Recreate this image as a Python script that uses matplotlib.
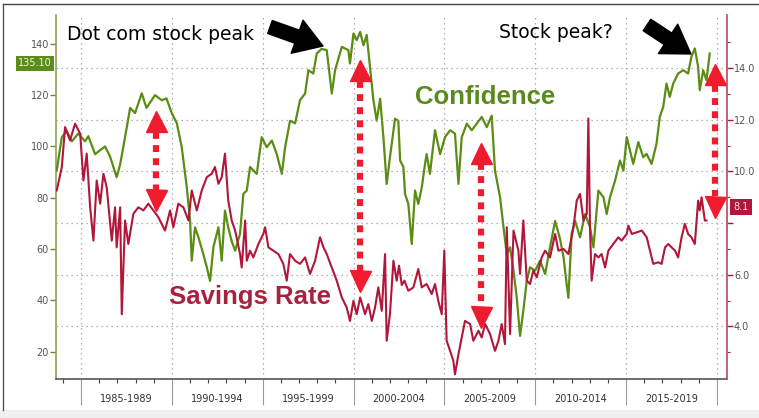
import matplotlib
matplotlib.use("Agg")
import matplotlib.pyplot as plt
from matplotlib.patches import Rectangle
from matplotlib.lines import Line2D

# ---------------- data ----------------
conf_years = [1983.66, 1983.94, 1984.21, 1984.49, 1984.85, 1985.22, 1985.4, 1985.77, 1986.32, 1986.6,
              1986.96, 1987.15, 1987.42, 1987.7, 1987.97, 1988.34, 1988.6, 1989.07, 1989.44, 1989.7,
              1989.99, 1990.27, 1990.54, 1990.82, 1991.0, 1991.09, 1991.27, 1991.46, 1991.73, 1991.92,
              1992.1, 1992.28, 1992.56, 1992.74, 1992.92, 1993.1, 1993.29, 1993.48, 1993.75, 1993.93,
              1994.12, 1994.3, 1994.67, 1994.94, 1995.22, 1995.5, 1995.77, 1996.05, 1996.23, 1996.5,
              1996.78, 1997.05, 1997.33, 1997.51, 1997.78, 1997.97, 1998.24, 1998.52, 1998.8, 1998.98,
              1999.35, 1999.71, 1999.8, 1999.99, 2000.17, 2000.36, 2000.54, 2000.72, 2000.9, 2001.09,
              2001.27, 2001.46, 2001.64, 2001.82, 2002.0, 2002.28, 2002.46, 2002.56, 2002.74, 2002.83,
              2003.01, 2003.2, 2003.38, 2003.56, 2003.75, 2003.93, 2004.02, 2004.2, 2004.48, 2004.76,
              2005.03, 2005.31, 2005.58, 2005.77, 2005.95, 2006.23, 2006.5, 2006.78, 2007.05, 2007.33,
              2007.6, 2007.78, 2008.06, 2008.25, 2008.43, 2008.61, 2008.8, 2008.98, 2009.16, 2009.34,
              2009.53, 2009.71, 2009.99, 2010.26, 2010.54, 2010.81, 2011.09, 2011.36, 2011.55, 2011.73,
              2011.82, 2012.0, 2012.19, 2012.46, 2012.74, 2013.01, 2013.2, 2013.47, 2013.75, 2013.93,
              2014.11, 2014.39, 2014.66, 2014.85, 2015.03, 2015.21, 2015.39, 2015.67, 2015.94, 2016.12,
              2016.4, 2016.67, 2016.85, 2017.04, 2017.22, 2017.4, 2017.59, 2017.86, 2018.14, 2018.41,
              2018.59, 2018.78, 2018.96, 2019.05, 2019.24, 2019.42, 2019.6]
conf_values = [90.6, 103.6, 106, 102, 105, 102, 104, 97, 100, 96,
               88, 93, 103.6, 115, 113, 120.7, 115, 120, 118, 118.7,
               113, 109, 99.7, 84, 71, 55.5, 68.5, 64.6, 58, 52.9,
               47.6, 60.7, 68.5, 55.5, 75, 68.5, 63, 59.4, 66, 81.5,
               82.8, 92, 89.3, 103.6, 99.7, 102.3, 97, 89.3, 99.7, 110,
               109, 118, 120.6, 129.7, 128.4, 136.2, 138, 137.5, 120.6, 129.7,
               138.8, 137.5, 132.3, 144, 141.4, 144.6, 139.4, 143.4, 131, 118,
               110, 118.6, 103.6, 85.4, 95.8, 110.8, 110, 94.5, 92, 81.5,
               77.6, 62, 82.8, 77.6, 84, 93.2, 97, 89.3, 106.3, 97,
               103.6, 106.3, 105, 85.4, 103.6, 108.9, 106.3, 108.9, 111.5, 107.5,
               112, 90.6, 80.2, 68.5, 58, 60.7, 51.6, 41, 26.2, 36,
               47.7, 52.9, 51.6, 55.5, 50.3, 60.7, 71, 64, 57, 46,
               41, 66, 71, 64.6, 73.7, 68.5, 60.7, 82.8, 80.2, 73.7,
               80.2, 86.7, 94.5, 90.6, 103.6, 98.4, 93.2, 101.7, 95.8, 97.1,
               93.2, 101, 111.5, 115.4, 124.5, 119.3, 124.5, 128.4, 129.7, 128.4,
               134.9, 138.2, 131, 121.9, 129.7, 125.8, 136.2]

sav_years = [1983.66, 1983.94, 1984.12, 1984.39, 1984.67, 1984.95, 1985.13, 1985.31, 1985.5, 1985.68,
             1985.86, 1986.05, 1986.23, 1986.41, 1986.69, 1986.87, 1986.96, 1987.15, 1987.24, 1987.42,
             1987.6, 1987.88, 1988.15, 1988.43, 1988.7, 1988.98, 1989.25, 1989.62, 1989.9, 1990.08,
             1990.35, 1990.63, 1990.91, 1991.09, 1991.37, 1991.64, 1991.92, 1992.19, 1992.37, 1992.56,
             1992.74, 1992.92, 1993.1, 1993.29, 1993.48, 1993.75, 1993.84, 1994.03, 1994.12, 1994.3,
             1994.48, 1994.76, 1995.03, 1995.13, 1995.31, 1995.58, 1995.86, 1996.13, 1996.32, 1996.5,
             1996.78, 1997.05, 1997.33, 1997.6, 1997.88, 1998.15, 1998.34, 1998.52, 1998.8, 1999.07,
             1999.35, 1999.62, 1999.8, 1999.99, 2000.17, 2000.36, 2000.63, 2000.81, 2001.0, 2001.18,
             2001.36, 2001.55, 2001.73, 2001.82, 2002.0, 2002.19, 2002.37, 2002.5, 2002.65, 2002.8,
             2003.01, 2003.29, 2003.56, 2003.75, 2004.02, 2004.3, 2004.48, 2004.66, 2004.85, 2004.99,
             2005.12, 2005.31, 2005.49, 2005.58, 2005.77, 2005.95, 2006.13, 2006.41, 2006.59, 2006.87,
             2007.05, 2007.24, 2007.51, 2007.78, 2007.97, 2008.15, 2008.33, 2008.43, 2008.61, 2008.8,
             2009.07, 2009.16, 2009.34, 2009.53, 2009.71, 2009.89, 2010.08, 2010.35, 2010.54, 2010.81,
             2011.09, 2011.27, 2011.55, 2011.82, 2012.1, 2012.28, 2012.46, 2012.65, 2012.83, 2012.92,
             2013.01, 2013.1, 2013.29, 2013.47, 2013.65, 2013.84, 2014.02, 2014.29, 2014.57, 2014.75,
             2015.03, 2015.12, 2015.31, 2015.58, 2015.86, 2016.13, 2016.31, 2016.49, 2016.77, 2016.95,
             2017.14, 2017.32, 2017.5, 2017.69, 2017.86, 2018.05, 2018.23, 2018.41, 2018.59, 2018.78,
             2018.96, 2019.05, 2019.15, 2019.33, 2019.42]
sav_values = [9.26, 10.17, 11.72, 11.2, 11.85, 11.46, 9.65, 10.69, 8.61, 7.32,
              9.65, 8.75, 9.91, 9.39, 7.32, 8.61, 7.06, 8.61, 4.47, 8.1,
              7.19, 8.36, 8.61, 8.49, 8.75, 8.49, 8.23, 7.71, 8.49, 7.84,
              8.75, 8.61, 8.1, 9.26, 8.49, 9.26, 9.78, 9.91, 10.17, 9.52,
              9.78, 10.69, 8.87, 8.1, 7.71, 6.8, 6.28, 8.1, 6.54, 6.93,
              6.67, 7.19, 7.58, 7.84, 7.06, 6.93, 6.8, 6.42, 5.77, 6.8,
              6.54, 6.42, 6.67, 6.03, 6.54, 7.45, 7.06, 6.8, 6.28, 5.77,
              5.12, 4.73, 4.21, 4.99, 4.47, 5.12, 4.47, 4.86, 4.21, 4.73,
              5.51, 4.6, 6.8, 3.44, 4.47, 6.54, 5.77, 6.35, 5.6, 5.77,
              5.38, 5.51, 6.22, 5.51, 5.64, 5.25, 5.64, 4.99, 4.47, 6.93,
              3.44, 3.05, 2.66, 2.14, 2.92, 3.57, 4.21, 4.09, 3.44, 3.83,
              3.57, 4.09, 3.70, 3.05, 3.44, 4.09, 3.31, 7.84, 3.70, 7.71,
              6.93, 6.03, 8.1, 5.77, 5.64, 6.16, 5.9, 6.67, 6.93, 6.67,
              7.58, 6.93, 7.0, 6.8, 7.84, 8.87, 9.13, 8.1, 8.36, 12.05,
              7.84, 5.77, 6.8, 6.67, 6.8, 6.28, 6.93, 7.19, 7.45, 7.32,
              7.58, 7.9, 7.58, 7.64, 7.71, 7.45, 6.93, 6.42, 6.48, 6.42,
              7.06, 7.19, 7.06, 6.93, 6.67, 7.45, 7.97, 7.58, 7.45, 7.19,
              8.87, 8.49, 9.0, 8.1, 8.1]

period_starts = [1985, 1990, 1995, 2000, 2005, 2010, 2015]
period_labels = ["1985-1989", "1990-1994", "1995-1999", "2000-2004",
                 "2005-2009", "2010-2014", "2015-2019"]
left_ticks = [20, 40, 60, 80, 100, 120, 140]
right_ticks = [4, 6, 8, 10, 12, 14]
right_tick_labels = ["4.0", "6.0", "", "10.0", "12.0", "14.0"]
conf_last_label = "135.10"
sav_last_label = "8.1"

# red double arrows (x, top tip, bottom tip) in Confidence units
arrow_x = [1989.1, 2000.35, 2007.0, 2019.9]
arrow_top = [114, 133.7, 101.7, 132.3]
arrow_bot = [75, 43.4, 29.3, 72.3]

# ---------------- style ----------------
GREEN = "#5b8c14"
RED = "#b0173a"
ARROW_RED = "#ee1c2e"
DPI = 100
W, H = 759, 418

fig = plt.figure(figsize=(W / DPI, H / DPI), dpi=DPI)
fig.patch.set_facecolor("white")

def px(x, y):
    return x / W, 1 - y / H

# frame / background decoration
fig.add_artist(Rectangle((0, 0), 1, 1 - 410 / H, transform=fig.transFigure,
                         facecolor="#f0f0f0", edgecolor="none", zorder=0))
fig.add_artist(Line2D([3 / W, 1], [1 - 4 / H, 1 - 4 / H], transform=fig.transFigure,
                      color="#444444", lw=1.0))
fig.add_artist(Line2D([3 / W, 3 / W], [1 - 4 / H, 1 - 410 / H], transform=fig.transFigure,
                      color="#555555", lw=1.0))

l, r, b, t = 56 / W, 727 / W, 1 - 379 / H, 1 - 15 / H
ax = fig.add_axes([l, b, r - l, t - b])
ax2 = ax.twinx()

ax.set_xlim(1983.62, 2020.55)
ax.set_ylim(9.4, 151.2)
ax2.set_ylim(1.96, 16.06)

# vertical grid + horizontal grid
ax.set_xticks([p for p in period_starts] + [2020])
ax.set_xticks(range(1984, 2021), minor=True)
ax.tick_params(axis="x", which="major", length=19, width=0.8, color="#999999",
               labelbottom=False)
ax.tick_params(axis="x", which="minor", length=3, width=0.8, color="#444444")
ax.grid(axis="x", which="major", linestyle=(0, (1, 3)), color="#9a9a9a", lw=0.9)

ax2.set_yticks(right_ticks)
ax2.set_yticks([3, 5, 7, 9, 11, 13, 15], minor=True)
ax2.set_yticklabels(right_tick_labels)
ax2.grid(axis="y", which="major", linestyle=(0, (1, 3)), color="#9a9a9a", lw=0.9)
ax2.tick_params(axis="y", which="major", length=4, width=1.0, color=RED,
                labelsize=7, labelcolor="#555555", pad=1)
ax2.tick_params(axis="y", which="minor", length=2, width=0.8, color=RED)

ax.set_yticks(left_ticks)
ax.tick_params(axis="y", length=4, width=1.0, color="#6b8a2c", labelsize=7,
               labelcolor="#555555", pad=1)

for sp in ["top"]:
    ax.spines[sp].set_visible(False)
    ax2.spines[sp].set_visible(False)
ax.spines["right"].set_visible(False)
ax2.spines["left"].set_visible(False)
ax2.spines["bottom"].set_visible(False)
ax.spines["left"].set_color("#8fa35a")
ax.spines["left"].set_linewidth(1.2)
ax2.spines["right"].set_color("#b34a62")
ax2.spines["right"].set_linewidth(1.2)
ax.spines["bottom"].set_color("#555555")
ax.spines["bottom"].set_linewidth(1.2)

# period labels
for p, lab in zip(period_starts, period_labels):
    ax.text(p + 2.5, -0.055, lab, transform=ax.get_xaxis_transform(),
            ha="center", va="center", fontsize=7, color="#333333")

# series
ax.plot(conf_years, conf_values, color=GREEN, lw=1.6, zorder=3)
ax2.plot(sav_years, sav_values, color=RED, lw=1.5, zorder=3)

# red double arrows (drawn in Confidence units on top layer)
tri_px = 21
tri_units = tri_px / 2.56
for xv, tp, bt in zip(arrow_x, arrow_top, arrow_bot):
    ax2.plot([xv, xv], [tp - tri_units, bt + tri_units], transform=ax.transData,
             color=ARROW_RED, lw=4.5, linestyle=(0, (1.1, 1.0)),
             dash_capstyle="butt", zorder=5)
    ax2.plot([xv], [tp - tri_units / 2], transform=ax.transData, marker="^",
             markersize=tri_px * 72 / DPI, color=ARROW_RED, linestyle="none", zorder=6)
    ax2.plot([xv], [bt + tri_units / 2], transform=ax.transData, marker="v",
             markersize=tri_px * 72 / DPI, color=ARROW_RED, linestyle="none", zorder=6)

# series labels
fig.text(*px(485, 97), "Confidence", ha="center", va="center", fontsize=18.5,
         fontweight="bold", family="Liberation Sans", color="#5a8a1e")
fig.text(*px(250, 297), "Savings Rate", ha="center", va="center", fontsize=18.5,
         fontweight="bold", family="Liberation Sans", color="#a8223f")

# annotations
fig.text(*px(67, 35), "Dot com stock peak", ha="left", va="center", fontsize=13.5,
         color="black")
fig.text(*px(499, 33), "Stock peak?", ha="left", va="center", fontsize=13.5,
         color="black")
for (tx, ty), (hx, hy) in [((270, 27), (323, 46)), ((647, 25), (691, 54))]:
    ax.annotate("", xy=(hx, H - hy), xytext=(tx, H - ty), xycoords="figure pixels",
                textcoords="figure pixels",
                arrowprops=dict(arrowstyle="simple,head_length=0.9,head_width=1.15,tail_width=0.45",
                                color="black", shrinkA=0, shrinkB=0, mutation_scale=22))

# last value labels
fig.text(*px(35, 63.5), conf_last_label, ha="center", va="center", fontsize=7,
         color="#eef7dd",
         bbox=dict(boxstyle="square,pad=0.25", facecolor="#5b8c1c", edgecolor="none"))
fig.text(*px(741, 207), sav_last_label, ha="center", va="center", fontsize=7,
         color="#f8e0e6",
         bbox=dict(boxstyle="square,pad=0.3", facecolor=RED, edgecolor="none"))

fig.savefig("out.png", dpi=DPI)
